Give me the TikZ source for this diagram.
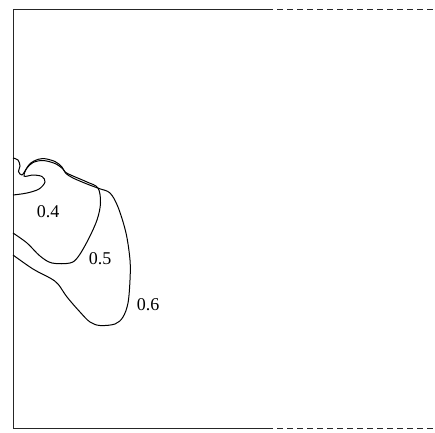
\documentclass[tikz,border=0pt]{standalone}
\usepackage{fontspec}
\setmainfont{Liberation Serif}
\begin{document}
\begin{tikzpicture}[x=1pt,y=-1pt,
  frame/.style={line width=1pt,black!85},
  dashframe/.style={line width=1pt,black!85,dash pattern=on 6pt off 4pt},
  contour/.style={line width=1pt,black},
  lbl/.style={font=\fontsize{18}{18}\selectfont,inner sep=0pt}]
\useasboundingbox (0,0) rectangle (435,432);
% frame
\coordinate (tl) at (13,9);
\coordinate (bl) at (13,428);
\coordinate (tm) at (267,9);
\coordinate (bm) at (267,428);
\coordinate (tr) at (435,9);
\coordinate (br) at (435,428);
\draw[frame] (tm) -- (tl) -- (bl) -- (bm);
\draw[dashframe] (tm) -- (tr);
\draw[dashframe] (bm) -- (br);
% contour 0.4 (lobe + inner region)
\draw[contour] plot[smooth,tension=0.55] coordinates {
  (13,195) (27,193) (39,189) (45,182) (42,176.5) (33,175) (24,176)
  (28,166) (34,161) (43,158.5) (55,161.5) (62,167) (65,172) (73,176)
  (87,182) (98,188) (100.5,203) (97,220) (88,240) (78,257) (70,263)
  (52,263) (40,256) (27,243) (13,233)};
% contour 0.5 / 0.6 (outer)
\draw[contour] plot[smooth,tension=0.55] coordinates {
  (13,158) (18,160) (20,166) (18.5,171.5) (22,175) (27,168) (33,162.5)
  (43,160.5) (55,163.5) (63,169) (66,173.5) (73,178) (87,184) (99,188.5)
  (110,193) (118,207) (126,233) (130,260) (130,280) (128,303) (123,317)
  (115,324) (100,325.5) (90,322) (80,312) (67,297) (58,284) (50,278)
  (33,269) (13,255)};
% labels
\node[lbl] (l4) at (48,212) {0.4};
\node[lbl] (l5) at (100,259) {0.5};
\node[lbl] (l6) at (148,305) {0.6};
\end{tikzpicture}
\end{document}
